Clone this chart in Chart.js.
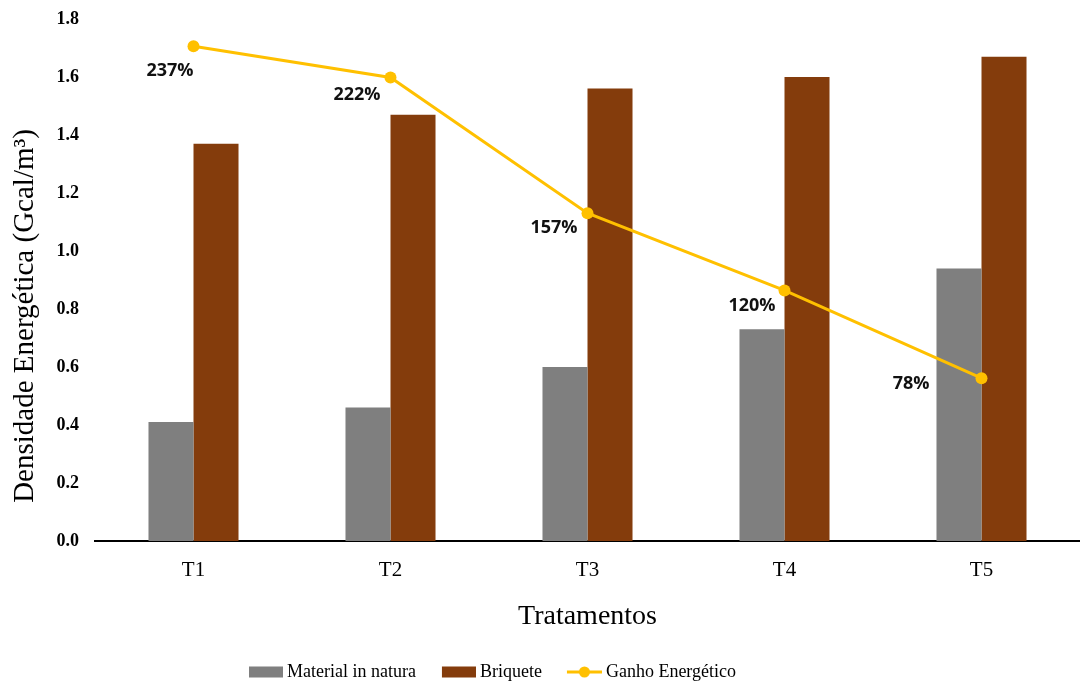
<!DOCTYPE html>
<html lang="pt">
<head>
<meta charset="utf-8">
<title>Densidade Energética</title>
<script src="https://cdn.jsdelivr.net/npm/chart.js@4.4.1/dist/chart.umd.min.js"></script>
<style>
  html, body { margin: 0; padding: 0; background: #ffffff; }
  #wrap { width: 1080px; height: 684px; position: relative; }
</style>
</head>
<body>
<div id="wrap"><canvas id="chart" width="1080" height="684"></canvas></div>
<script>
// Tratamentos
const categories = ['T1', 'T2', 'T3', 'T4', 'T5'];
// Densidade energética (Gcal/m³)
const materialInNatura = [0.41, 0.46, 0.60, 0.73, 0.94];
const briquete = [1.37, 1.47, 1.56, 1.60, 1.67];
// Ganho energético do briquete (%)
const ganhoEnergetico = [237, 222, 157, 120, 78];
// Rótulos do eixo Y
const yTicks = [0.0, 0.2, 0.4, 0.6, 0.8, 1.0, 1.2, 1.4, 1.6, 1.8];
const yTitle = 'Densidade Energética (Gcal/m³)';

const GRAY = '#7f7f7f';
const BROWN = '#843c0c';
const GOLD = '#ffc000';
const SERIF = "'Times New Roman', 'Liberation Serif', serif";

// Placement of the percentage labels relative to each point (right edge, vertical centre)
const labelShift = [[0, 25], [-10, 17], [-10, 15], [-9, 15], [-52, 6]];

// Legend icons drawn on small canvases
function makeIcon(kind, color) {
  const c = document.createElement('canvas');
  c.width = 38; c.height = 14;
  const g = c.getContext('2d');
  if (kind === 'box') {
    g.fillStyle = color;
    g.fillRect(4, 1.5, 34, 11);
  } else {
    g.strokeStyle = color;
    g.lineWidth = 3;
    g.beginPath(); g.moveTo(3, 7); g.lineTo(38, 7); g.stroke();
    g.fillStyle = color;
    g.beginPath(); g.arc(20.5, 7, 5.5, 0, Math.PI * 2); g.fill();
  }
  return c;
}
const legendIcons = [makeIcon('box', GRAY), makeIcon('box', BROWN), makeIcon('line', GOLD)];

const percentLabels = {
  id: 'percentLabels',
  afterDatasetsDraw(chart) {
    const meta = chart.getDatasetMeta(2);
    const ctx = chart.ctx;
    ctx.save();
    ctx.font = "bold 18px 'Open Sans', 'Liberation Sans', sans-serif";
    ctx.fillStyle = '#111111';
    ctx.textAlign = 'right';
    ctx.textBaseline = 'middle';
    meta.data.forEach((pt, i) => {
      const [dx, dy] = labelShift[i];
      ctx.fillText(ganhoEnergetico[i] + '%', pt.x + dx, pt.y + dy);
    });
    ctx.restore();
  }
};

// Vertical axis title, set a little below the middle of the plot
const valueAxisTitle = {
  id: 'valueAxisTitle',
  afterDraw(chart) {
    const { ctx, chartArea } = chart;
    ctx.save();
    ctx.translate(chartArea.left - 70, (chartArea.top + chartArea.bottom) / 2 + 36);
    ctx.rotate(-Math.PI / 2);
    ctx.font = '29px ' + SERIF;
    ctx.fillStyle = '#000000';
    ctx.textAlign = 'center';
    ctx.textBaseline = 'middle';
    ctx.fillText(yTitle, 0, 0);
    ctx.restore();
  }
};

const legendPlacement = {
  id: 'legendPlacement',
  afterLayout(chart) {
    const lg = chart.legend;
    const dx = -47, dy = 7;
    lg.left += dx; lg.right += dx;
    lg.top += dy; lg.bottom += dy;
  }
};

new Chart(document.getElementById('chart'), {
  data: {
    labels: categories,
    datasets: [
      {
        type: 'bar',
        label: 'Material in natura',
        data: materialInNatura,
        backgroundColor: GRAY,
        yAxisID: 'y',
        order: 1,
        categoryPercentage: 0.457,
        barPercentage: 1.0
      },
      {
        type: 'bar',
        label: 'Briquete',
        data: briquete,
        backgroundColor: BROWN,
        yAxisID: 'y',
        order: 1,
        categoryPercentage: 0.457,
        barPercentage: 1.0
      },
      {
        type: 'line',
        label: 'Ganho Energético',
        data: ganhoEnergetico,
        borderColor: GOLD,
        backgroundColor: GOLD,
        borderWidth: 3,
        pointRadius: 6,
        pointBorderWidth: 0,
        pointBackgroundColor: GOLD,
        tension: 0,
        clip: false,
        yAxisID: 'y2',
        order: 0
      }
    ]
  },
  options: {
    responsive: false,
    animation: false,
    layout: { autoPadding: false, padding: { top: 19, left: 0, right: 0, bottom: 0 } },
    plugins: {
      tooltip: { enabled: false },
      legend: {
        position: 'bottom',
        labels: {
          usePointStyle: true,
          pointStyleWidth: 28,
          padding: 27,
          color: '#000000',
          font: { family: SERIF, size: 18 },
          generateLabels(chart) {
            return chart.data.datasets.map((ds, i) => ({
              text: ds.label,
              pointStyle: legendIcons[i],
              datasetIndex: i,
              hidden: false,
              fillStyle: 'transparent',
              strokeStyle: 'transparent',
              lineWidth: 0,
              fontColor: '#000000'
            }));
          }
        }
      }
    },
    scales: {
      x: {
        grid: { display: false, drawTicks: false },
        border: { display: true, color: '#000000', width: 2 },
        ticks: { color: '#000000', padding: 17, font: { family: SERIF, size: 21 } },
        title: {
          display: true,
          text: 'Tratamentos',
          color: '#000000',
          font: { family: SERIF, size: 28 },
          padding: { top: 0, bottom: -4 }
        },
        afterFit(scale) {
          scale.height = 88;
          scale.paddingLeft = 0;
          scale.paddingRight = 0;
        }
      },
      y: {
        position: 'left',
        min: 0,
        max: 1.8,
        grid: { display: false, drawTicks: false },
        border: { display: false },
        afterBuildTicks(scale) { scale.ticks = yTicks.map(v => ({ value: v })); },
        ticks: {
          color: '#000000',
          padding: 16,
          font: { family: SERIF, size: 18, weight: 'bold' },
          callback: (v) => Number(v).toFixed(1)
        },
        afterFit(scale) {
          scale.width = 95;
          scale.paddingTop = 0;
          scale.paddingBottom = 0;
        }
      },
      y2: {
        display: false,
        position: 'right',
        min: 0,
        max: 250
      }
    }
  },
  plugins: [percentLabels, valueAxisTitle, legendPlacement]
});
</script>
</body>
</html>
